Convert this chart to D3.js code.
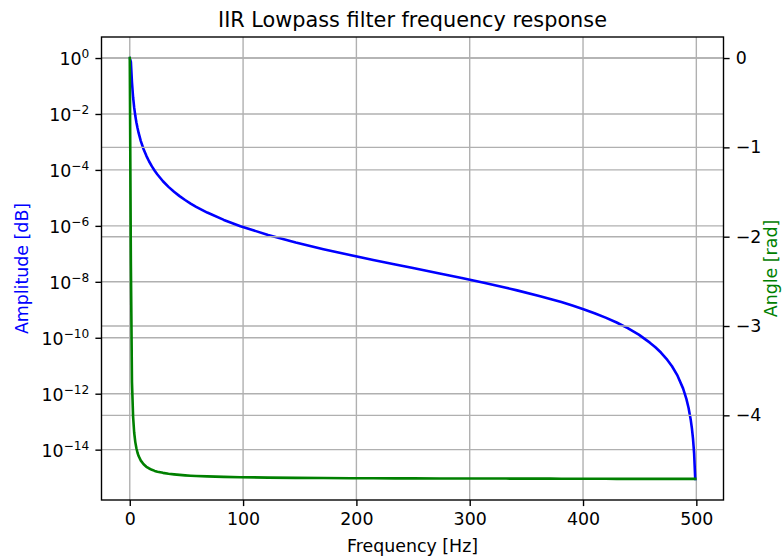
<!DOCTYPE html>
<html>
<head>
<meta charset="utf-8">
<script src="https://cdn.jsdelivr.net/npm/d3@7/dist/d3.min.js"></script>
<style>
  html, body { margin: 0; padding: 0; background: #fff; }
  svg { display: block; }
  text { font-family: "DejaVu Sans", sans-serif; }
</style>
</head>
<body>
<svg id="chart" width="782" height="556"></svg>
<script>
// ---- data ----
const frequency = [0, 0.977, 1.953, 2.930, 3.906, 4.883, 5.859, 6.836, 7.813, 9.766, 12.21, 14.65,
  17.09, 19.53, 22.00, 24.41, 29.30, 34.18, 39.06, 43.95, 48.83, 53.71, 58.59, 68.36, 83.01, 97.66,
  122.07, 146.48, 170.9, 195.31, 214.84, 234.38, 250, 273.44, 292.97, 312.5, 332.03, 341.80, 361.33,
  371.09, 380.86, 390.63, 400.39, 410.16, 419.92, 429.69, 439.45, 449.22, 458.98, 463.87, 468.75,
  473.63, 478.52, 483.40, 488.28, 491.21, 493.16, 495.12, 496.09, 497.07, 498.05, 499.02];
// amplitude, as power of ten (log10 of |H|)
const amplitudeExp = [0, -0.136, -0.876, -1.401, -1.775, -2.066, -2.303, -2.504, -2.678, -2.969, -3.260, -3.497,
  -3.699, -3.874, -4.029, -4.165, -4.404, -4.606, -4.780, -4.937, -5.076, -5.203, -5.318, -5.524, -5.787, -6.011,
  -6.326, -6.593, -6.832, -7.050, -7.219, -7.381, -7.509, -7.701, -7.865, -8.034, -8.212, -8.306, -8.505,
  -8.612, -8.726, -8.848, -8.979, -9.121, -9.279, -9.455, -9.655, -9.889, -10.175, -10.338, -10.528,
  -10.751, -11.019, -11.356, -11.810, -12.185, -12.513, -12.952, -13.242, -13.616, -14.145, -15.048];
// unwrapped phase [rad]
const angle = [0, -2.298, -3.633, -4.014, -4.195, -4.300, -4.369, -4.419, -4.456, -4.507, -4.548, -4.576,
  -4.595, -4.610, -4.622, -4.631, -4.644, -4.654, -4.661, -4.667, -4.672, -4.676, -4.679, -4.684, -4.689, -4.693,
  -4.697, -4.700, -4.702, -4.704, -4.705, -4.706, -4.706, -4.707, -4.708, -4.708, -4.708, -4.709, -4.709,
  -4.709, -4.710, -4.710, -4.710, -4.710, -4.710, -4.711, -4.711, -4.711, -4.711, -4.711, -4.711,
  -4.712, -4.712, -4.712, -4.712, -4.712, -4.712, -4.712, -4.712, -4.712, -4.712, -4.712];

const xTicks = [0, 100, 200, 300, 400, 500];
const leftTickExp = [0, -2, -4, -6, -8, -10, -12, -14];
const rightTicks = [0, -1, -2, -3, -4];

const titleText = "IIR Lowpass filter frequency response";
const xLabel = "Frequency [Hz]";
const leftLabel = "Amplitude [dB]";
const rightLabel = "Angle [rad]";

// ---- layout ----
const L = 101.5, R = 723.5, T = 37, B = 500;
const svg = d3.select("#chart");

const x = d3.scaleLinear().domain([-24.95, 523.97]).range([L, R]);
const yL = d3.scaleLog().domain([Math.pow(10, -15.80), Math.pow(10, 0.752)]).range([B, T]);
const yR = d3.scaleLinear().domain([-4.948, 0.2356]).range([B, T]);

const gridColor = "#b0b0b0", gridW = 1.39;
const fs = 17.4;

const ampData = frequency.map((f, i) => ({ f, v: Math.pow(10, amplitudeExp[i]) }));
const angData = frequency.map((f, i) => ({ f, v: angle[i] }));

// grids of first axes
const g1 = svg.append("g");
g1.selectAll("line.xg").data(xTicks).join("line")
  .attr("x1", d => x(d)).attr("x2", d => x(d)).attr("y1", T).attr("y2", B)
  .attr("stroke", gridColor).attr("stroke-width", gridW);
g1.selectAll("line.yg").data(leftTickExp).join("line")
  .attr("x1", L).attr("x2", R).attr("y1", d => yL(Math.pow(10, d))).attr("y2", d => yL(Math.pow(10, d)))
  .attr("stroke", gridColor).attr("stroke-width", gridW);

svg.append("clipPath").attr("id", "clip").append("rect")
  .attr("x", L).attr("y", T).attr("width", R - L).attr("height", B - T);

svg.append("path").datum(ampData)
  .attr("clip-path", "url(#clip)")
  .attr("fill", "none").attr("stroke", "#0000ff").attr("stroke-width", 2.6)
  .attr("stroke-linejoin", "round").attr("stroke-linecap", "square")
  .attr("d", d3.line().x(d => x(d.f)).y(d => yL(d.v)));

// grid of twin axes
svg.append("g").selectAll("line").data(rightTicks).join("line")
  .attr("x1", L).attr("x2", R).attr("y1", d => yR(d)).attr("y2", d => yR(d))
  .attr("stroke", gridColor).attr("stroke-width", gridW);

svg.append("path").datum(angData)
  .attr("clip-path", "url(#clip)")
  .attr("fill", "none").attr("stroke", "#008000").attr("stroke-width", 2.6)
  .attr("stroke-linejoin", "round").attr("stroke-linecap", "square")
  .attr("d", d3.line().x(d => x(d.f)).y(d => yR(d.v)));

// spines
svg.append("rect").attr("x", L).attr("y", T).attr("width", R - L).attr("height", B - T)
  .attr("fill", "none").attr("stroke", "#000").attr("stroke-width", 1.39);

const tickLen = 6.1, pad = 6.1;

// x axis
const xAxis = svg.append("g").attr("transform", `translate(0,${B})`)
  .call(d3.axisBottom(x).tickValues(xTicks).tickSize(tickLen).tickPadding(pad).tickFormat(d3.format("d")));
xAxis.select(".domain").remove();
xAxis.selectAll(".tick line").attr("stroke", "#000").attr("stroke-width", 1.39);
xAxis.selectAll(".tick text").attr("font-size", fs).attr("fill", "#000").attr("font-family", "DejaVu Sans");

// left log axis
const yAxisL = svg.append("g").attr("transform", `translate(${L},0)`)
  .call(d3.axisLeft(yL).tickValues(leftTickExp.map(e => Math.pow(10, e))).tickSize(tickLen).tickPadding(pad).tickFormat(""));
yAxisL.select(".domain").remove();
yAxisL.selectAll(".tick line").attr("stroke", "#000").attr("stroke-width", 1.39);
yAxisL.selectAll(".tick text").remove();
yAxisL.selectAll(".tick").each(function (d) {
  const e = Math.round(Math.log10(d));
  const t = d3.select(this).append("text")
    .attr("x", -(tickLen + pad)).attr("y", 6.5)
    .attr("text-anchor", "end").attr("fill", "#000").attr("font-size", fs)
    .attr("font-family", "DejaVu Sans");
  t.append("tspan").text("10");
  t.append("tspan").attr("font-size", fs * 0.7).attr("dy", -7).text(e < 0 ? "\u2212" + (-e) : String(e));
});

// right axis
const yAxisR = svg.append("g").attr("transform", `translate(${R},0)`)
  .call(d3.axisRight(yR).tickValues(rightTicks).tickSize(tickLen).tickPadding(pad)
    .tickFormat(d => d < 0 ? "\u2212" + (-d) : String(d)));
yAxisR.select(".domain").remove();
yAxisR.selectAll(".tick line").attr("stroke", "#000").attr("stroke-width", 1.39);
yAxisR.selectAll(".tick text").attr("font-size", fs).attr("fill", "#000").attr("font-family", "DejaVu Sans");

// labels
svg.append("text").attr("x", (L + R) / 2).attr("y", 26.7).attr("text-anchor", "middle")
  .attr("font-size", 20.8).attr("fill", "#000").text(titleText);
svg.append("text").attr("x", (L + R) / 2).attr("y", 551.5).attr("text-anchor", "middle")
  .attr("font-size", fs).attr("fill", "#000").text(xLabel);
svg.append("text").attr("transform", `translate(27.5,${(T + B) / 2}) rotate(-90)`).attr("text-anchor", "middle")
  .attr("font-size", fs).attr("fill", "#0000ff").text(leftLabel);
svg.append("text").attr("transform", `translate(777,${(T + B) / 2}) rotate(-90)`).attr("text-anchor", "middle")
  .attr("font-size", fs).attr("fill", "#008000").text(rightLabel);
</script>
</body>
</html>
